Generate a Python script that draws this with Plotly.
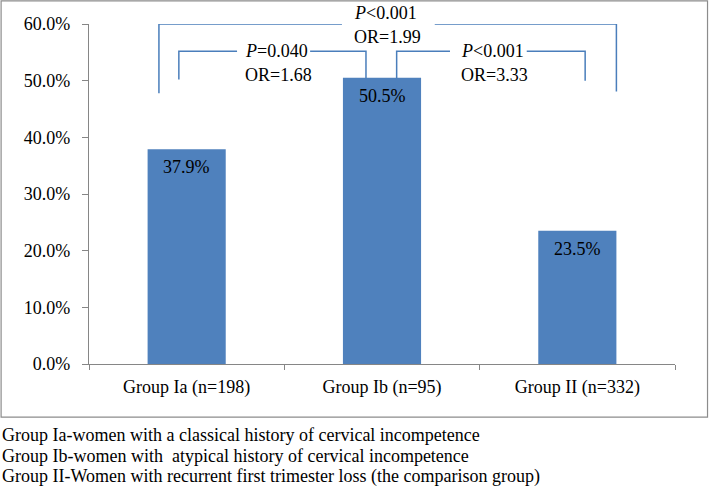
import plotly.graph_objects as go

# ---- data ----
categories = ["Group Ia (n=198)", "Group Ib (n=95)", "Group II (n=332)"]
values = [37.9, 50.5, 23.5]
value_labels = ["37.9%", "50.5%", "23.5%"]
y_ticks = [0, 10, 20, 30, 40, 50, 60]
y_tick_labels = ["0.0%", "10.0%", "20.0%", "30.0%", "40.0%", "50.0%", "60.0%"]
comparisons = [  # (group a, group b, p text, OR text)
    (0, 1, "<i>P</i>=0.040", "OR=1.68"),
    (1, 2, "<i>P</i>&lt;0.001", "OR=3.33"),
    (0, 2, "<i>P</i>&lt;0.001", "OR=1.99"),
]
footnotes = [
    "Group Ia-women with a classical history of cervical incompetence",
    "Group Ib-women with  atypical history of cervical incompetence",
    "Group II-Women with recurrent first trimester loss (the comparison group)",
]

FONT = "Liberation Serif, Times New Roman, serif"
FS = 18
BAR = "#4f81bd"
LINE = "#4a7ebb"
AXIS = "#868686"

fig = go.Figure()
fig.add_trace(go.Bar(
    x=categories, y=values, width=0.4,
    marker=dict(color=BAR, line=dict(width=0)),
    hoverinfo="skip",
))

shapes = []
annotations = []

# value labels inside the bars, near the top
for c, v, lab in zip(categories, values, value_labels):
    annotations.append(dict(x=c, y=v, xref="x", yref="y", text=lab, showarrow=False,
                            xanchor="center", yanchor="top", yshift=-6,
                            font=dict(family=FONT, size=FS, color="black")))

# bracket layout (index-space geometry relative to groups)
bracket_style = {
    (0, 1): dict(xl=-0.04, xr=0.918, top=55.2, gap=(0.258, 0.632), tx=0.29, ty=(0.9205, 0.8487), legs=(50.2, 50.4)),
    (1, 2): dict(xl=1.075, xr=2.04, top=55.2, gap=(1.348, 1.741), tx=1.396, ty=(0.9205, 0.8487), legs=(50.4, 50.0)),
    (0, 2): dict(xl=-0.142, xr=2.20, top=60.0, gap=(0.795, 1.27), tx=0.844, ty=(1.032, 0.9617), legs=(47.8, 48.1)),
}
for a, b, ptxt, ortxt in comparisons:
    s = bracket_style[(a, b)]
    path = (f"M {s['xl']},{s['legs'][0]} L {s['xl']},{s['top']} L {s['gap'][0]},{s['top']} "
            f"M {s['gap'][1]},{s['top']} L {s['xr']},{s['top']} L {s['xr']},{s['legs'][1]}")
    shapes.append(dict(type="path", path=path, xref="x", yref="y",
                       line=dict(color=LINE, width=1.5)))
    for txt, yy in ((ptxt, s["ty"][0]), (ortxt, s["ty"][1])):
        annotations.append(dict(x=s["tx"], y=yy, xref="x", yref="paper", text=txt,
                                showarrow=False, xanchor="left", yanchor="middle",
                                font=dict(family=FONT, size=FS, color="black")))

# footnotes
for i, t in enumerate(footnotes):
    annotations.append(dict(x=-0.152, y=-0.210 - i * 0.0604, xref="paper", yref="paper",
                            text=t, showarrow=False, xanchor="left", yanchor="middle",
                            font=dict(family=FONT, size=FS, color="black")))

# outer chart border
shapes.append(dict(type="rect", xref="paper", yref="paper", x0=-0.150, x1=1.0555,
                   y0=-0.156, y1=1.068, line=dict(color="#8c8c8c", width=1.2),
                   fillcolor="rgba(0,0,0,0)", layer="below"))

fig.update_layout(
    width=709, height=487,
    margin=dict(l=89, r=34, t=24, b=123.3, pad=0),
    paper_bgcolor="white", plot_bgcolor="white",
    showlegend=False,
    font=dict(family=FONT, size=FS, color="black"),
    shapes=shapes, annotations=annotations,
    xaxis=dict(type="category", range=[-0.5, 2.5], showline=True, linecolor=AXIS,
               linewidth=1.2, ticks="outside", tickson="boundaries", ticklen=5,
               tickcolor=AXIS, showgrid=False, ticklabelstandoff=6,
               tickfont=dict(family=FONT, size=FS, color="black"), zeroline=False),
    yaxis=dict(range=[0, 60], tickvals=y_ticks, ticktext=y_tick_labels, showline=True,
               linecolor=AXIS, linewidth=1.2, ticks="outside", ticklen=6, tickcolor=AXIS,
               showgrid=False, zeroline=False, ticklabelstandoff=8,
               tickfont=dict(family=FONT, size=FS, color="black")),
)

fig.write_html("out.html", config={"displayModeBar": False},
               post_script="document.body.style.margin='0';")
